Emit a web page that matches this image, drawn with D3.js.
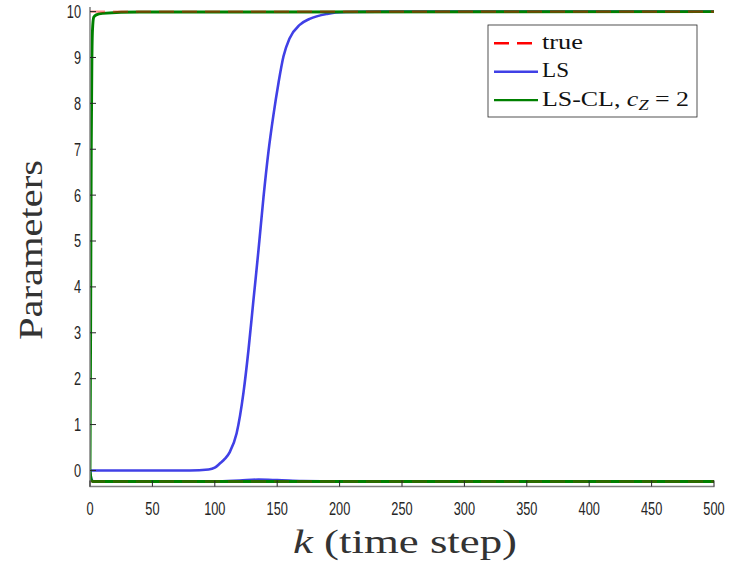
<!DOCTYPE html>
<html lang="en">
<head>
    <meta charset="UTF-8">
    <title>Parameters vs time step</title>
    <script src="https://cdn.jsdelivr.net/npm/d3@7"></script>
    <style>
        body { margin: 0; background: #fff; }
        .tick-label { font-family: "Liberation Sans", Arial, sans-serif; font-size: 18px; fill: #262626; }
        .axis-title { font-family: "Liberation Serif", "DejaVu Serif", serif; font-size: 34px; fill: #333; }
        .legend-text { font-family: "Liberation Serif", "DejaVu Serif", serif; font-size: 20px; fill: #111; }
    </style>
</head>
<body>
    <svg width="733" height="567"></svg>
    <script>
        // values
        const trueK = [0, 500];
        const trueHigh = [10, 10];
        const trueLow = [-0.24, -0.24];

        const lsK = [0, 80, 95, 100, 104, 108, 112, 117.5, 123, 127, 131, 135, 139, 143, 147, 151, 155, 160, 168, 176, 190, 205, 230, 500];
        const lsHigh = [0, 0, 0.02, 0.06, 0.15, 0.25, 0.4, 0.81, 1.7, 2.63, 3.72, 4.8, 5.95, 6.95, 7.75, 8.44, 9.02, 9.42, 9.71, 9.84, 9.95, 9.99, 10, 10];
        const lsLowK = [0, 1, 3, 100, 120, 135, 150, 170, 200, 500];
        const lsLow = [0, -0.18, -0.24, -0.24, -0.22, -0.2, -0.21, -0.23, -0.24, -0.24];

        const clK = [0, 0.5, 1, 1.5, 2, 3, 5, 10, 40, 500];
        const clHigh = [0, 3, 7, 8.9, 9.6, 9.88, 9.93, 9.96, 9.99, 10];
        const clLowK = [0, 1, 2, 500];
        const clLow = [0, -0.2, -0.24, -0.24];

        const xTicks = d3.range(0, 501, 50);
        const yTicks = d3.range(0, 11, 1);

        const svg = d3.select("svg");
        const x = d3.scaleLinear().domain([0, 500]).range([90, 714]);
        const y = d3.scaleLinear().domain([-0.35, 10.1]).range([486.5, 7]);

        const line = d3.line()
            .x(d => x(d[0]))
            .y(d => y(d[1]))
            .curve(d3.curveMonotoneX);

        const zip = (ks, vs) => ks.map((k, i) => [k, vs[i]]);
        const dash = "15,8";

        svg.append("clipPath").attr("id", "plot")
            .append("rect").attr("x", 90).attr("y", 7).attr("width", 624).attr("height", 479.5);

        const g = svg.append("g").attr("clip-path", "url(#plot)");

        // LS (blue)
        [zip(lsK, lsHigh), zip(lsLowK, lsLow)].forEach(d => {
            g.append("path").attr("d", line(d))
                .attr("fill", "none").attr("stroke", "#4040e6").attr("stroke-width", 2.6);
        });

        // LS-CL (green)
        [zip(clK, clHigh), zip(clLowK, clLow)].forEach(d => {
            g.append("path").attr("d", line(d))
                .attr("fill", "none").attr("stroke", "#008000").attr("stroke-width", 2.9);
        });

        // true values (red dashed)
        [zip(trueK, trueHigh), zip(trueK, trueLow)].forEach((d, i) => {
            g.append("path").attr("d", line(d))
                .attr("fill", "none").attr("stroke", "#ff0000").attr("stroke-width", 2.4)
                .attr("stroke-dasharray", dash).attr("stroke-opacity", i ? 0.2 : 0.45);
        });

        // axes
        const axisColor = "#808080";
        svg.append("line").attr("x1", 90).attr("x2", 90).attr("y1", 7).attr("y2", 487)
            .attr("stroke", axisColor).attr("stroke-width", 1.5);
        svg.append("line").attr("x1", 89.5).attr("x2", 714.5).attr("y1", 486.5).attr("y2", 486.5)
            .attr("stroke", axisColor).attr("stroke-width", 1.5);

        svg.selectAll(".xtick").data(xTicks).enter().append("line")
            .attr("x1", d => x(d)).attr("x2", d => x(d))
            .attr("y1", 486.5).attr("y2", 480.5)
            .attr("stroke", "#262626").attr("stroke-width", 1);
        svg.selectAll(".xlab").data(xTicks).enter().append("text")
            .attr("class", "tick-label")
            .attr("x", d => x(d)).attr("y", 515)
            .attr("text-anchor", "middle")
            .attr("textLength", d => String(d).length * 7.1)
            .attr("lengthAdjust", "spacingAndGlyphs")
            .text(d => d);

        svg.selectAll(".ytick").data(yTicks).enter().append("line")
            .attr("x1", 90).attr("x2", 96)
            .attr("y1", d => y(d)).attr("y2", d => y(d))
            .attr("stroke", "#262626").attr("stroke-width", 1);
        svg.selectAll(".ylab").data(yTicks).enter().append("text")
            .attr("class", "tick-label")
            .attr("x", 81).attr("y", d => y(d) + 6.4)
            .attr("text-anchor", "end")
            .attr("textLength", d => String(d).length * 7.1)
            .attr("lengthAdjust", "spacingAndGlyphs")
            .text(d => d);

        // axis titles
        svg.append("text").attr("class", "axis-title")
            .attr("transform", "translate(42,250) rotate(-90)")
            .attr("text-anchor", "middle")
            .attr("textLength", 180)
            .attr("lengthAdjust", "spacingAndGlyphs")
            .text("Parameters");

        const xt = svg.append("text").attr("class", "axis-title")
            .attr("x", 405).attr("y", 553)
            .attr("text-anchor", "middle")
            .attr("textLength", 224)
            .attr("lengthAdjust", "spacingAndGlyphs");
        xt.append("tspan").attr("font-style", "italic").text("k");
        xt.append("tspan").text(" (time step)");

        // legend
        const lg = svg.append("g");
        lg.append("rect").attr("x", 488).attr("y", 25).attr("width", 209).attr("height", 92)
            .attr("fill", "#fff").attr("stroke", "#262626").attr("stroke-width", 0.8);

        const entries = [
            { color: "#ff0000", dash: dash, label: "true", len: 41 },
            { color: "#4040e6", dash: null, label: "LS", len: 27 },
            { color: "#008000", dash: null, label: "LS-CL", len: 147 }
        ];
        entries.forEach((e, i) => {
            const yy = 43.3 + i * 28.4;
            lg.append("line").attr("x1", 494).attr("x2", 538).attr("y1", yy).attr("y2", yy)
                .attr("stroke", e.color).attr("stroke-width", 2.4)
                .attr("stroke-dasharray", e.dash);
            const t = lg.append("text").attr("class", "legend-text")
                .attr("x", 542).attr("y", yy + 5.5)
                .attr("textLength", e.len)
                .attr("lengthAdjust", "spacingAndGlyphs");
            t.append("tspan").text(e.label);
            if (i === 2) {
                t.append("tspan").text(", ");
                t.append("tspan").attr("font-style", "italic").text("c");
                t.append("tspan").attr("font-style", "italic").attr("font-size", "14px")
                    .attr("dy", 4).text("Z");
                t.append("tspan").attr("dy", -4).text(" = 2");
            }
        });
    </script>
</body>
</html>
